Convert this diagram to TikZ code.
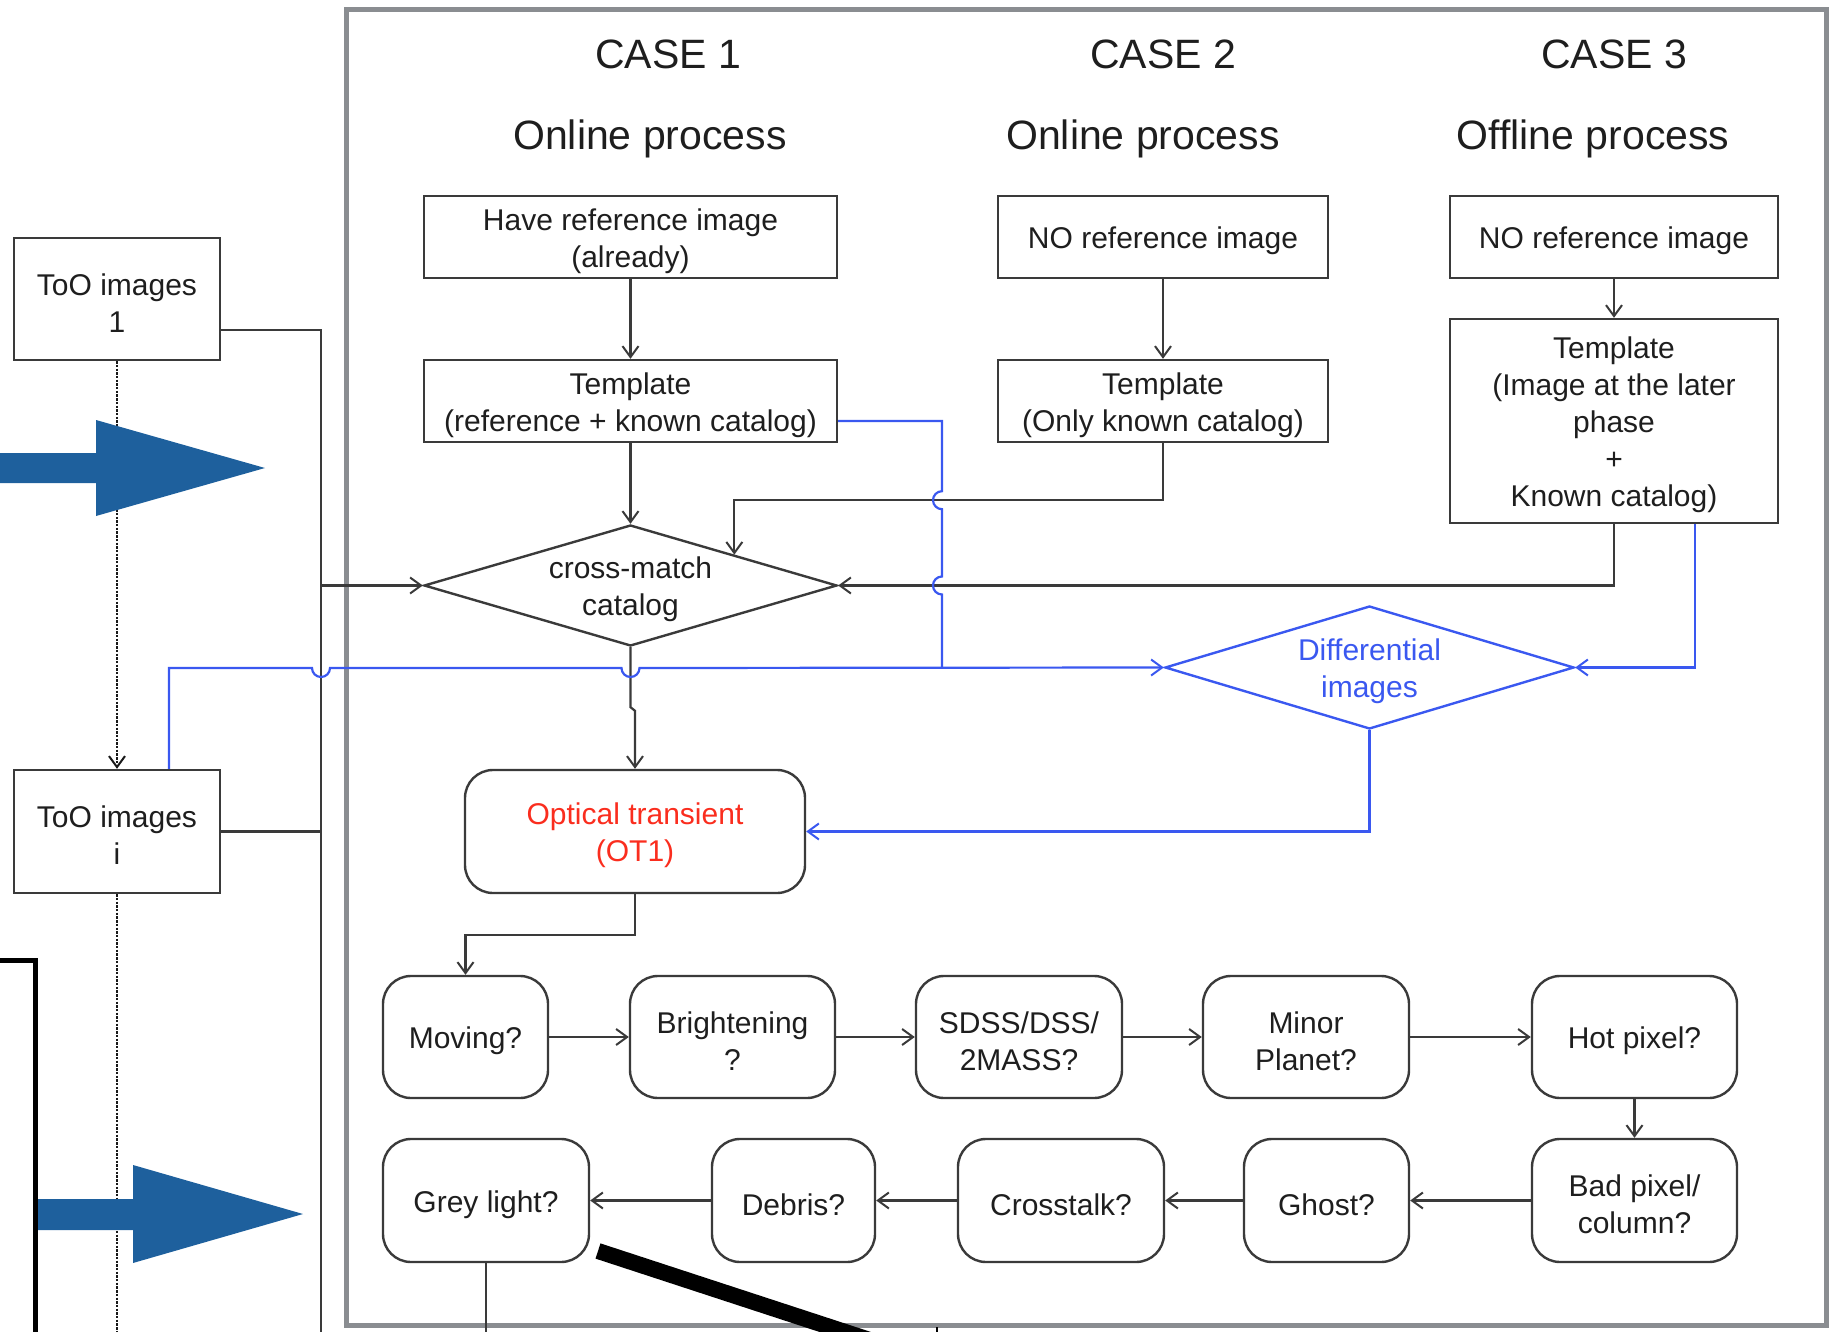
\documentclass[tikz,border=0pt]{standalone}
\usepackage{fontspec}
\setmainfont{Liberation Sans}
\usetikzlibrary{arrows.meta,shapes.geometric,calc}

\definecolor{framegray}{RGB}{138,141,145}
\definecolor{ink}{RGB}{58,58,58}
\definecolor{txt}{RGB}{30,30,30}
\definecolor{flowblue}{RGB}{58,88,240}
\definecolor{otred}{RGB}{250,45,30}
\definecolor{bigblue}{RGB}{30,96,157}

\begin{document}
\begin{tikzpicture}[x=1pt,y=-1pt,
  tx/.style={font=\fontsize{30}{37}\selectfont, text=txt, align=center, inner sep=0pt, yshift=-4pt},
  sqbox/.style={draw=ink, line width=2.4pt, rectangle, inner sep=0pt},
  rbox/.style={draw=ink, line width=2.4pt, rectangle, rounded corners=28pt, inner sep=0pt},
  dbox/.style={draw=ink, line width=2.4pt, diamond, inner sep=0pt},
  headline/.style={font=\fontsize{41}{48}\selectfont, text=txt, anchor=base, inner sep=0pt},
  conn/.style={draw=ink, line width=2.2pt},
  bluel/.style={draw=flowblue, line width=2.2pt},
  tip/.style={-{Straight Barb[length=11pt,width=16pt,line width=2pt]}},
  dots/.style={draw=black!90, line width=2.4pt, dash pattern=on 2.4pt off 1.3pt},
  bigarrow/.style={fill=bigblue, draw=none}
]
\useasboundingbox (0,0) rectangle (1832,1332);

% outer frame of the three cases
\draw[framegray, line width=5pt] (346,10) rectangle (1826,1325);

% column headings
\node[headline] (c1) at (668,69) {CASE 1};
\node[headline] (c2) at (1163,69) {CASE 2};
\node[headline] (c3) at (1614,69) {CASE 3};
\node[headline] (p1) at (650,150) {Online process};
\node[headline] (p2) at (1143,150) {Online process};
\node[headline] (p3) at (1593,150) {Offline process};

% input image boxes
\node[sqbox, minimum width=206pt, minimum height=122pt, label={[tx]center:{ToO images\\1}}] (too1) at (117,299) {};
\node[sqbox, minimum width=206pt, minimum height=123pt, label={[tx]center:{ToO images\\i}}] (tooi) at (117,831.5) {};

% case boxes
\node[sqbox, minimum width=413pt, minimum height=82pt, label={[tx]center:{Have reference image\\(already)}}] (haveref) at (630.5,237) {};
\node[sqbox, minimum width=413pt, minimum height=82pt, label={[tx]center:{Template\\(reference + known catalog)}}] (tmpl1) at (630.5,401) {};
\node[sqbox, minimum width=330pt, minimum height=82pt, label={[tx]center:{NO reference image}}] (noref2) at (1163,237) {};
\node[sqbox, minimum width=330pt, minimum height=82pt, label={[tx]center:{Template\\(Only known catalog)}}] (tmpl2) at (1163,401) {};
\node[sqbox, minimum width=328pt, minimum height=82pt, label={[tx]center:{NO reference image}}] (noref3) at (1614,237) {};
\node[sqbox, minimum width=328pt, minimum height=204pt, label={[tx]center:{Template\\(Image at the later\\phase\\+\\Known catalog)}}] (tmpl3) at (1614,421) {};

% decisions
\node[dbox, minimum width=413pt, minimum height=121pt, label={[tx]center:{cross-match\\catalog}}] (xmatch) at (630.5,585.5) {};
\node[dbox, draw=flowblue, minimum width=409pt, minimum height=123pt, label={[tx,text=flowblue]center:{Differential\\images}}] (diff) at (1369.5,667.5) {};

% transient and checks
\node[rbox, minimum width=340pt, minimum height=123pt, label={[tx,text=otred]center:{Optical transient\\(OT1)}}] (ot1) at (635,831.5) {};

\node[rbox, minimum width=165pt, minimum height=122pt, label={[tx]center:{Moving?}}] (moving) at (465.5,1037) {};
\node[rbox, minimum width=205pt, minimum height=122pt, label={[tx]center:{Brightening\\?}}] (bright) at (732.5,1037) {};
\node[rbox, minimum width=206pt, minimum height=122pt, label={[tx]center:{SDSS/DSS/\\2MASS?}}] (sdss) at (1019,1037) {};
\node[rbox, minimum width=206pt, minimum height=122pt, label={[tx]center:{Minor\\Planet?}}] (minor) at (1306,1037) {};
\node[rbox, minimum width=205pt, minimum height=122pt, label={[tx]center:{Hot pixel?}}] (hot) at (1634.5,1037) {};

\node[rbox, minimum width=206pt, minimum height=123pt, label={[tx]center:{Grey light?}}] (grey) at (486,1200.5) {};
\node[rbox, minimum width=163pt, minimum height=123pt, label={[tx]center:{Debris?}}] (debris) at (793.5,1200.5) {};
\node[rbox, minimum width=206pt, minimum height=123pt, label={[tx]center:{Crosstalk?}}] (xtalk) at (1061,1200.5) {};
\node[rbox, minimum width=165pt, minimum height=123pt, label={[tx]center:{Ghost?}}] (ghost) at (1326.5,1200.5) {};
\node[rbox, minimum width=205pt, minimum height=123pt, label={[tx]center:{Bad pixel/\\column?}}] (badpix) at (1634.5,1200.5) {};

% helper points
\coordinate (busTop) at (321,330);
\coordinate (busEnd) at (321,1332);
\coordinate (bj) at (942,668);
\coordinate (feed2) at ($(tmpl2.south)+(0,57)$);
\coordinate (blueOut1) at ($(tmpl1.east)+(0,20)$);

% image stream bus
\draw[conn] ([yshift=-31pt]too1.east) -- (busTop) -- (busEnd);
\draw[conn] (tooi.east) -- (tooi.east -| busTop);
\draw[conn,tip] (busTop |- xmatch.west) -- (xmatch.west);
\draw[dots,tip] (too1.south) -- (tooi.north);
\draw[dots] (tooi.south) -- (tooi.south |- busEnd);

% case connectors
\draw[conn,tip] (haveref.south) -- (tmpl1.north);
\draw[conn,tip] (tmpl1.south) -- (xmatch.north);
\draw[conn,tip] (noref2.south) -- (tmpl2.north);
\draw[conn,tip] (tmpl2.south) -- (feed2) -| (xmatch.north east);
\draw[conn,tip] (noref3.south) -- (tmpl3.north);
\draw[conn,tip] (tmpl3.south) |- (xmatch.east);
\draw[conn,tip] (xmatch.south) -- ($(xmatch.south)+(0,60)$) -- ($(ot1.north)+(0,-58)$) -- (ot1.north);

% differential image path
\draw[bluel,tip] ([xshift=52pt]tooi.north) -- ([xshift=52pt]tooi.north |- bj)
  -- ($(busTop |- bj)+(-9,0)$) arc[start angle=180,end angle=360,radius=9pt]
  -- ($(xmatch.south |- bj)+(-9,0)$) arc[start angle=180,end angle=360,radius=9pt]
  -- (diff.west);
\draw[bluel] (blueOut1) -- (blueOut1 -| bj)
  -- ($(bj |- feed2)+(0,-9)$) arc[start angle=90,end angle=270,radius=9pt]
  -- ($(bj |- xmatch.east)+(0,-9)$) arc[start angle=90,end angle=270,radius=9pt]
  -- (bj);
\draw[bluel,tip] ($(tmpl3.south)+(81,0)$) |- (diff.east);
\draw[bluel,tip] (diff.south) |- (ot1.east);

% check chain
\draw[conn,tip] (ot1.south) -- ($(ot1.south)+(0,41)$) -| (moving.north);
\draw[conn,tip] (moving.east) -- (bright.west);
\draw[conn,tip] (bright.east) -- (sdss.west);
\draw[conn,tip] (sdss.east) -- (minor.west);
\draw[conn,tip] (minor.east) -- (hot.west);
\draw[conn,tip] (hot.south) -- (badpix.north);
\draw[conn,tip] (badpix.west) -- (ghost.east);
\draw[conn,tip] (ghost.west) -- (xtalk.east);
\draw[conn,tip] (xtalk.west) -- (debris.east);
\draw[conn,tip] (debris.west) -- (grey.east);
\draw[conn] (grey.south) -- (grey.south |- busEnd);

% block arrows
\fill[bigarrow] (-5,453) -- (96,453) -- (96,420) -- (265,468) -- (96,516) -- (96,483) -- (-5,483) -- cycle;
\fill[bigarrow] (35,1199) -- (133,1199) -- (133,1165) -- (303,1214) -- (133,1263) -- (133,1230) -- (35,1230) -- cycle;

% black overlay strokes
\draw[black, line width=5pt] (-5,960) -- (35,960) -- (35,1340);
\draw[black, line width=16pt] (598,1251) -- (885,1345);
\draw[black, line width=1.5pt] (937,1327) -- (937,1332);
\end{tikzpicture}
\end{document}
